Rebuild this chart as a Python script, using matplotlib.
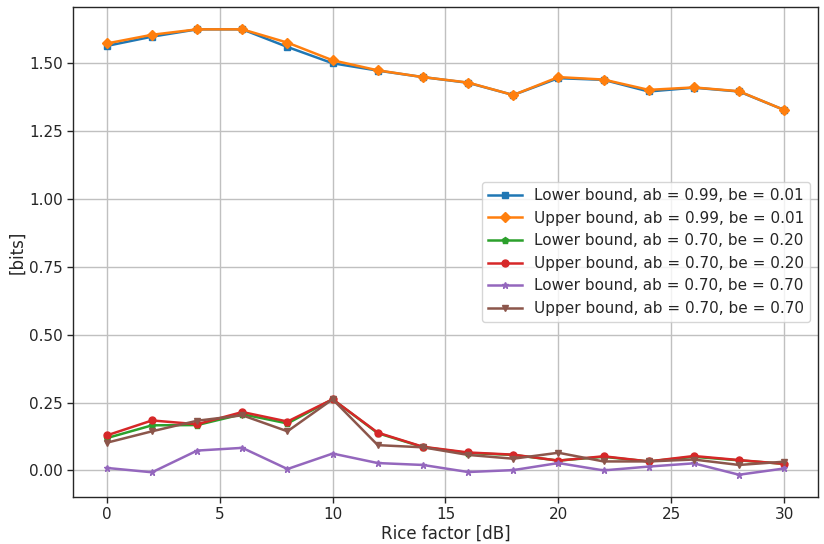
import matplotlib
matplotlib.use("Agg")
import matplotlib.pyplot as plt

rice_db = [0, 2, 4, 6, 8, 10, 12, 14, 16, 18, 20, 22, 24, 26, 28, 30]

lower_099 = [1.564, 1.598, 1.625, 1.625, 1.560, 1.500, 1.473, 1.449, 1.428, 1.383, 1.445, 1.439, 1.396, 1.410, 1.396, 1.328]
upper_099 = [1.573, 1.605, 1.625, 1.625, 1.576, 1.511, 1.474, 1.449, 1.429, 1.383, 1.449, 1.440, 1.402, 1.411, 1.397, 1.328]
lower_070_020 = [0.119, 0.166, 0.167, 0.207, 0.173, 0.262, 0.137, 0.086, 0.064, 0.057, 0.036, 0.050, 0.033, 0.050, 0.037, 0.024]
upper_070_020 = [0.129, 0.184, 0.170, 0.215, 0.180, 0.262, 0.139, 0.087, 0.066, 0.058, 0.036, 0.052, 0.033, 0.053, 0.038, 0.024]
lower_070_070 = [0.009, -0.007, 0.073, 0.083, 0.005, 0.062, 0.027, 0.020, -0.006, 0.001, 0.027, 0.000, 0.014, 0.026, -0.016, 0.007]
upper_070_070 = [0.102, 0.144, 0.183, 0.203, 0.144, 0.262, 0.093, 0.085, 0.057, 0.043, 0.065, 0.033, 0.033, 0.040, 0.020, 0.032]

series = [
    (lower_099, "Lower bound, ab = 0.99, be = 0.01", "#1f77b4", "s", 5),
    (upper_099, "Upper bound, ab = 0.99, be = 0.01", "#ff7f0e", "D", 5),
    (lower_070_020, "Lower bound, ab = 0.70, be = 0.20", "#2ca02c", "p", 4.5),
    (upper_070_020, "Upper bound, ab = 0.70, be = 0.20", "#d62728", "o", 5),
    (lower_070_070, "Lower bound, ab = 0.70, be = 0.70", "#9467bd", "*", 5),
    (upper_070_070, "Upper bound, ab = 0.70, be = 0.70", "#8c564b", "v", 5),
]

plt.rcParams.update({
    "font.family": "DejaVu Sans",
    "text.color": "#262626",
    "axes.labelcolor": "#262626",
    "xtick.color": "#262626",
    "ytick.color": "#262626",
    "axes.edgecolor": "#262626",
})

fig = plt.figure(figsize=(8.24, 5.44), dpi=100)
ax = fig.add_axes([0.0886, 0.0864, 0.9041, 0.9006])

for vals, label, color, marker, ms in series:
    ax.plot(rice_db, vals, color=color, marker=marker, markersize=ms,
            linewidth=1.8, label=label)

ax.grid(True, color="#c0c0c0", linewidth=1)
ax.set_axisbelow(True)
ax.set_yticks([0.0, 0.25, 0.5, 0.75, 1.0, 1.25, 1.5])
ax.set_yticklabels(["0.00", "0.25", "0.50", "0.75", "1.00", "1.25", "1.50"])
ax.tick_params(labelsize=11, length=4, width=1)
ax.set_xlabel("Rice factor [dB]", fontsize=12, labelpad=2)
ax.set_ylabel("[bits]", fontsize=12, labelpad=2)
for s in ax.spines.values():
    s.set_linewidth(1)

ax.legend(loc="center right", fontsize=11, frameon=True, edgecolor="#cccccc",
          framealpha=0.8, handlelength=2.2)

fig.savefig("out.png", dpi=100)
